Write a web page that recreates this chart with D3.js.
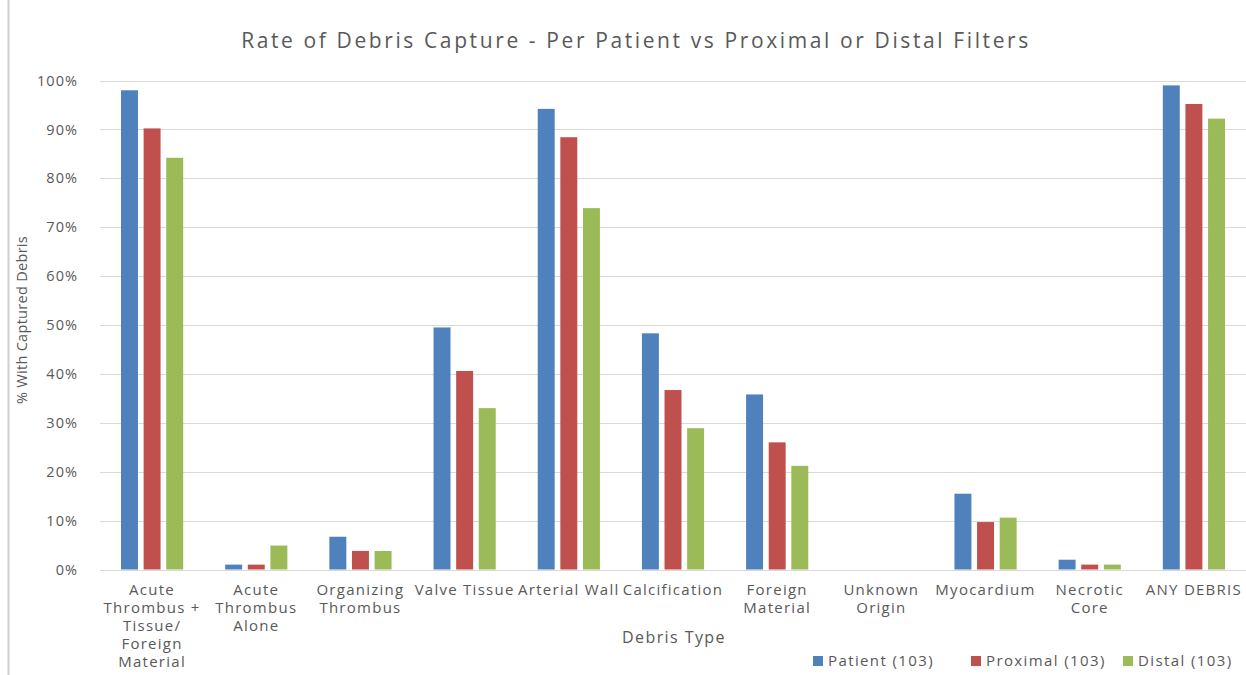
<!DOCTYPE html>
<html>
<head>
<meta charset="utf-8">
<script src="https://cdn.jsdelivr.net/npm/d3@7"></script>
<style>
  html, body { margin: 0; padding: 0; background: #fff; }
  svg { display: block; }
</style>
</head>
<body>
<svg id="chart" width="1246" height="675"></svg>
<script>
// ─── Data ────────────────────────────────────────────────────────────────────
const categories = [
  'Acute Thrombus + Tissue/ Foreign Material', 'Acute Thrombus Alone', 'Organizing Thrombus',
  'Valve Tissue', 'Arterial Wall', 'Calcification', 'Foreign Material', 'Unknown Origin',
  'Myocardium', 'Necrotic Core', 'ANY DEBRIS'
];
// how each category label wraps under the axis
const categoryLines = [
  ['Acute', 'Thrombus +', 'Tissue/', 'Foreign', 'Material'],
  ['Acute', 'Thrombus', 'Alone'],
  ['Organizing', 'Thrombus'],
  ['Valve Tissue'],
  ['Arterial Wall'],
  ['Calcification'],
  ['Foreign', 'Material'],
  ['Unknown', 'Origin'],
  ['Myocardium'],
  ['Necrotic', 'Core'],
  ['ANY DEBRIS']
];
const seriesNames = ['Patient (103)', 'Proximal (103)', 'Distal (103)'];
const patient  = [98.0, 1.0, 6.7, 49.5, 94.2, 48.3, 35.8, 0, 15.5, 2.0, 99.0];
const proximal = [90.2, 1.0, 3.8, 40.6, 88.4, 36.7, 26.0, 0, 9.7, 1.0, 95.2];
const distal   = [84.2, 4.9, 3.8, 33.0, 73.9, 28.9, 21.2, 0, 10.6, 1.0, 92.2];
const yTicks = [0, 10, 20, 30, 40, 50, 60, 70, 80, 90, 100];

// ─── Layout ──────────────────────────────────────────────────────────────────
const W = 1246, H = 675;
const PLOT = { left: 100, right: 1246, top: 80.5, bottom: 569.5 };
const COLORS = ['#4F81BD', '#C0504D', '#9BBB59'];
const TEXT = '#595959';
const GRID = '#D9D9D9';
const FONT = "'Open Sans', sans-serif";

// The reference text is set a little loose; spread letters so a sample
// string reaches the width.
function spacingFor(sel, target) {
  const node = sel.node();
  const w = node.getComputedTextLength();
  const n = node.textContent.length;
  return Math.max(0, (target - w) / n).toFixed(2) + 'px';
}

const svg = d3.select('#chart');

// light frame line at left edge
svg.append('line')
  .attr('x1', 8.5).attr('x2', 8.5).attr('y1', 0).attr('y2', H)
  .attr('stroke', '#d0d0d0').attr('stroke-width', 2);

const x = d3.scaleBand().domain(categories).range([PLOT.left, PLOT.right]).padding(0);
const inner = d3.scaleBand().domain(seriesNames).range([21, x.bandwidth() - 21]).paddingInner(0.25);
const y = d3.scaleLinear().domain([0, 100]).range([PLOT.bottom, PLOT.top]);

// ── Grid ────────────────────────────────────────────────────────────────────
svg.append('g')
  .selectAll('line')
  .data(yTicks)
  .join('line')
  .attr('x1', PLOT.left).attr('x2', PLOT.right)
  .attr('y1', d => Math.round(y(d)) + 0.5).attr('y2', d => Math.round(y(d)) + 0.5)
  .attr('stroke', GRID).attr('stroke-width', 1);

// ── Y axis labels ───────────────────────────────────────────────────────────
const yAxis = svg.append('g')
  .attr('transform', `translate(${PLOT.left - 22},0)`)
  .call(d3.axisLeft(y).tickValues(yTicks).tickFormat(d => d + '%').tickSize(0).tickPadding(0));
yAxis.select('.domain').remove();
const yText = yAxis.selectAll('text')
  .attr('fill', TEXT).style('font-family', FONT).style('font-size', '14.5px');
yText.style('letter-spacing', spacingFor(yText.filter(d => d === 100), 41));

// ── Bars ────────────────────────────────────────────────────────────────────
const series = [patient, proximal, distal];
series.forEach((vals, si) => {
  svg.append('g')
    .selectAll('rect')
    .data(vals)
    .join('rect')
    .attr('x', (d, i) => x(categories[i]) + inner(seriesNames[si]))
    .attr('y', d => y(d))
    .attr('width', inner.bandwidth())
    .attr('height', d => y(0) - y(d))
    .attr('fill', COLORS[si]);
});

// ── X category labels ───────────────────────────────────────────────────────
const xl = svg.append('g')
  .selectAll('text')
  .data(categories)
  .join('text')
  .attr('x', d => x(d) + x.bandwidth() / 2)
  .attr('y', 595)
  .attr('text-anchor', 'middle')
  .attr('fill', TEXT)
  .style('font-family', FONT)
  .style('font-size', '15px');
xl.each(function (d, i) {
  d3.select(this).selectAll('tspan')
    .data(categoryLines[i])
    .join('tspan')
    .attr('x', x(d) + x.bandwidth() / 2)
    .attr('dy', (t, j) => j === 0 ? 0 : 18)
    .text(t => t);
});
xl.style('letter-spacing', spacingFor(xl.filter(d => d === 'Valve Tissue'), 100));

// ── Titles ──────────────────────────────────────────────────────────────────
const title = svg.append('text')
  .attr('x', 636).attr('y', 48)
  .attr('text-anchor', 'middle')
  .attr('fill', TEXT)
  .style('font-family', FONT)
  .style('font-size', '21px')
  .text('Rate of Debris Capture - Per Patient vs Proximal or Distal Filters');
title.style('letter-spacing', spacingFor(title, 790));

const xTitle = svg.append('text')
  .attr('x', 674).attr('y', 643)
  .attr('text-anchor', 'middle')
  .attr('fill', TEXT)
  .style('font-family', FONT)
  .style('font-size', '16px')
  .text('Debris Type');
xTitle.style('letter-spacing', spacingFor(xTitle, 104));

const yTitle = svg.append('text')
  .attr('transform', 'translate(27,320) rotate(-90)')
  .attr('text-anchor', 'middle')
  .attr('fill', TEXT)
  .style('font-family', FONT)
  .style('font-size', '14.5px')
  .text('% With Captured Debris');
yTitle.style('letter-spacing', spacingFor(yTitle, 168));

// ── Legend ──────────────────────────────────────────────────────────────────
const legendX = [813, 971, 1123];
const legend = svg.append('g')
  .selectAll('g')
  .data(seriesNames)
  .join('g')
  .attr('transform', (d, i) => `translate(${legendX[i]},661)`);
legend.append('rect')
  .attr('x', 0).attr('y', -5).attr('width', 10).attr('height', 10)
  .attr('fill', (d, i) => COLORS[i]);
const legText = legend.append('text')
  .attr('x', 15).attr('y', 0).attr('dy', '0.35em')
  .attr('fill', TEXT)
  .style('font-family', FONT)
  .style('font-size', '15px')
  .text(d => d);
legText.style('letter-spacing', spacingFor(legText.filter((d, i) => i === 0), 106));
</script>
</body>
</html>
